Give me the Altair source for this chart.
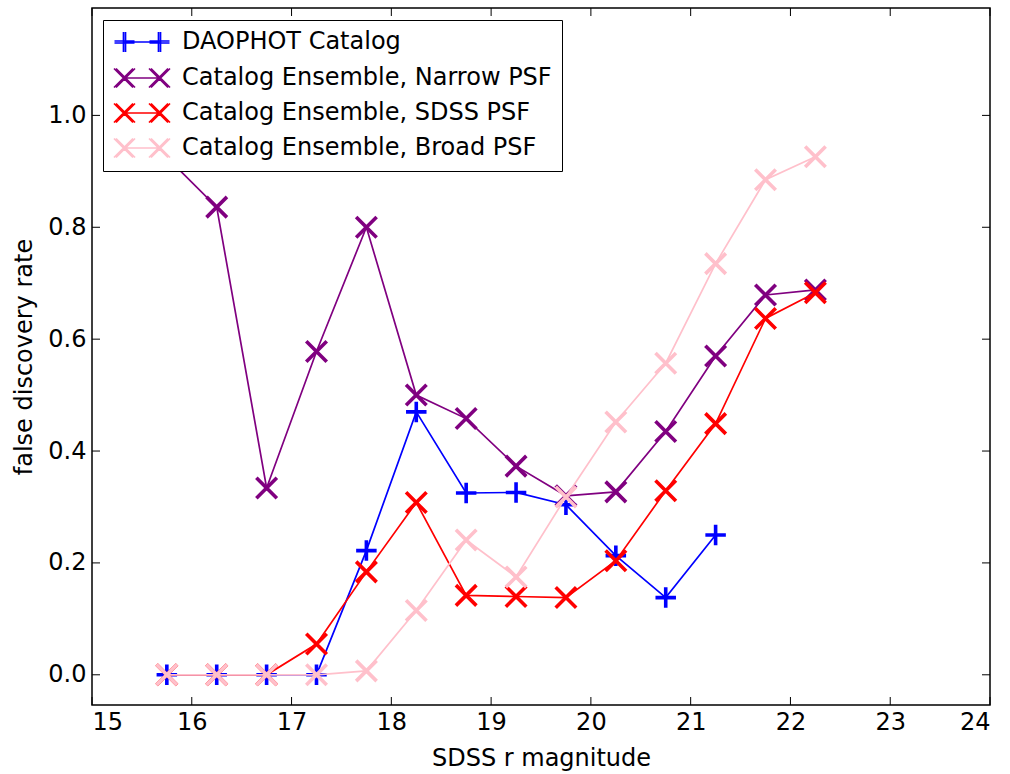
import altair as alt
import pandas as pd

# ---- data ----
mag = [15.75, 16.25, 16.75, 17.25, 17.75, 18.25, 18.75, 19.25, 19.75, 20.25, 20.75, 21.25, 21.75, 22.25]
daophot = [0.0, 0.0, 0.0, 0.0, 0.222, 0.470, 0.325, 0.326, 0.304, 0.213, 0.138, 0.250]
narrow = [0.925, 0.836, 0.334, 0.578, 0.800, 0.500, 0.458, 0.373, 0.320, 0.327, 0.435, 0.570, 0.679, 0.688]
sdss = [0.0, 0.0, 0.0, 0.055, 0.184, 0.308, 0.142, 0.140, 0.138, 0.204, 0.329, 0.449, 0.637, 0.683]
broad = [0.0, 0.0, 0.0, 0.0, 0.007, 0.115, 0.241, 0.175, 0.318, 0.452, 0.557, 0.735, 0.885, 0.926]

series_names = [
    "DAOPHOT Catalog",
    "Catalog Ensemble, Narrow PSF",
    "Catalog Ensemble, SDSS PSF",
    "Catalog Ensemble, Broad PSF",
]
series_values = [daophot, narrow, sdss, broad]
colors = ["#0000ff", "#800080", "#ff0000", "#ffc0cb"]

x_ticks = [15, 16, 17, 18, 19, 20, 21, 22, 23, 24]
y_ticks = [0.0, 0.2, 0.4, 0.6, 0.8, 1.0]

# marker shapes (unit paths)
PLUS = "M-1,0L1,0M0,-1L0,1"
CROSS = "M-1,-1L1,1M-1,1L1,-1"
marker_shapes = [PLUS, CROSS, CROSS, CROSS]


# legend handles: thin line with two thick markers (thickness by doubled strokes)
def leg_cross(c=1.75, h=0.95, d=0.1):
    parts = []
    for cx in (-c, c):
        for o in (-d, d):
            parts.append(f"M{cx - h + o:.3f},{-h:.3f}L{cx + h + o:.3f},{h:.3f}")
            parts.append(f"M{cx - h + o:.3f},{h:.3f}L{cx + h + o:.3f},{-h:.3f}")
    parts.append(f"M{-c:.3f},0L{c:.3f},0")
    return "".join(parts)


def leg_plus(c=1.75, h=1.0, d=0.1):
    parts = []
    for cx in (-c, c):
        for o in (-d, d):
            parts.append(f"M{cx + o:.3f},{-h:.3f}L{cx + o:.3f},{h:.3f}")
            parts.append(f"M{cx - h:.3f},{o:.3f}L{cx + h:.3f},{o:.3f}")
    parts.append(f"M{-c:.3f},0L{c:.3f},0")
    return "".join(parts)


legend_shapes = [leg_plus(), leg_cross(), leg_cross(), leg_cross()]

rows = []
for name, vals in zip(series_names, series_values):
    for m, v in zip(mag, vals):
        rows.append({"mag": m, "fdr": v, "series": name})
df = pd.DataFrame(rows)

W, H = 898, 697
FS = 24

xs = alt.Scale(domain=[15, 24], nice=False, zero=False)
ys = alt.Scale(domain=[-0.054, 1.192], nice=False, zero=False)
X = alt.X("mag:Q", scale=xs,
          axis=alt.Axis(values=x_ticks, format="d", title="SDSS r magnitude",
                        ticks=False, domain=False, grid=False,
                        labelPadding=5, titlePadding=12))
Y = alt.Y("fdr:Q", scale=ys,
          axis=alt.Axis(values=y_ticks, format=".1f", title="false discovery rate",
                        ticks=False, domain=False, grid=False,
                        labelPadding=6, titlePadding=11))

layers = []

# inward ticks on all four sides
xt = pd.DataFrame({"mag": x_ticks})
yt = pd.DataFrame({"fdr": y_ticks})
TL = 8
layers.append(alt.Chart(xt).mark_rule(color="black", strokeWidth=1).encode(
    x=X, y=alt.value(H), y2=alt.value(H - TL)))
layers.append(alt.Chart(xt).mark_rule(color="black", strokeWidth=1).encode(
    x=X, y=alt.value(0), y2=alt.value(TL)))
layers.append(alt.Chart(yt).mark_rule(color="black", strokeWidth=1).encode(
    y=Y, x=alt.value(0), x2=alt.value(TL)))
layers.append(alt.Chart(yt).mark_rule(color="black", strokeWidth=1).encode(
    y=Y, x=alt.value(W), x2=alt.value(W - TL)))

for name, color, shp in zip(series_names, colors, marker_shapes):
    sub = df[df.series == name]
    layers.append(alt.Chart(sub).mark_line(color=color, strokeWidth=1.7).encode(x=X, y=Y))
    layers.append(alt.Chart(sub).mark_point(shape=shp, size=420, color=color, filled=False,
                                            strokeWidth=3.6, opacity=1).encode(x=X, y=Y))

# invisible layer providing the legend
leg = alt.Legend(title=None, symbolOpacity=1, symbolStrokeWidth=1.7, symbolSize=400,
                 symbolFillColor="transparent")
layers.append(alt.Chart(df).mark_point(filled=False, opacity=0, size=400).encode(
    x=X, y=Y,
    color=alt.Color("series:N", scale=alt.Scale(domain=series_names, range=colors), legend=leg),
    shape=alt.Shape("series:N", scale=alt.Scale(domain=series_names, range=legend_shapes), legend=leg),
))

chart = alt.layer(*layers).properties(
    width=W, height=H,
    autosize=alt.AutoSizeParams(type="none"),
    padding={"left": 92, "top": 8, "right": 20, "bottom": 69},
).configure_view(
    stroke="black", strokeWidth=1.5
).configure_axis(
    labelFont="DejaVu Sans", labelFontSize=FS, labelColor="black",
    titleFont="DejaVu Sans", titleFontSize=FS, titleFontWeight="normal", titleColor="black",
).configure_legend(
    orient="none", legendX=11, legendY=12,
    strokeColor="black", fillColor="white", padding=10, cornerRadius=0,
    labelFont="DejaVu Sans", labelFontSize=FS, labelColor="black", labelLimit=600,
    symbolOffset=17, labelOffset=28, rowPadding=9,
)

chart.save("out.html", embed_options={"renderer": "svg", "actions": False})
